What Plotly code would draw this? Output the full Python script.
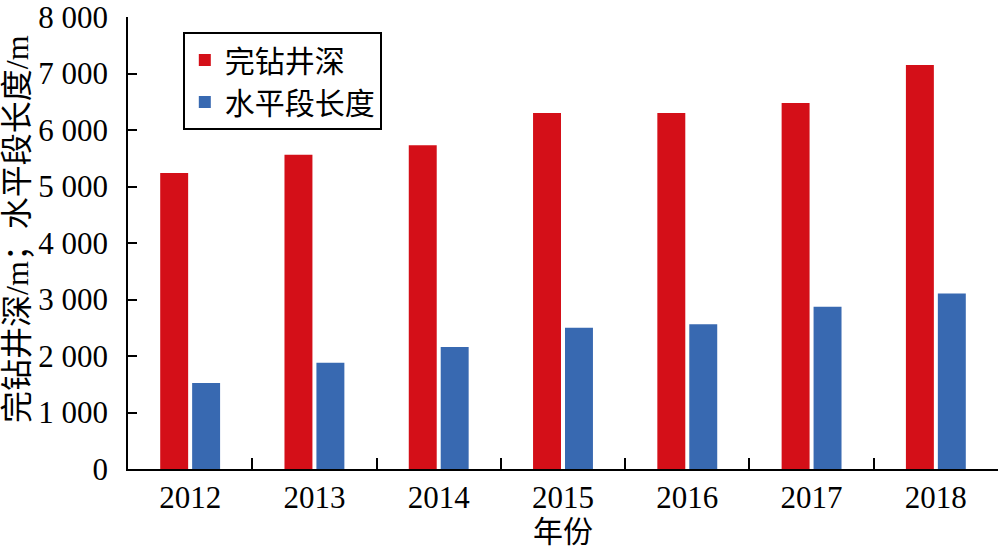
import plotly.graph_objects as go

years = ["2012", "2013", "2014", "2015", "2016", "2017", "2018"]
well_depth = [5240, 5560, 5730, 6300, 6300, 6480, 7150]
horizontal_len = [1520, 1880, 2160, 2500, 2560, 2870, 3105]
y_tickvals = [0, 1000, 2000, 3000, 4000, 5000, 6000, 7000, 8000]
y_ticktext = ["0", "1 000", "2 000", "3 000", "4 000", "5 000", "6 000", "7 000", "8 000"]

SERIF = "Times New Roman, Liberation Serif, serif"
CJK = "Times New Roman, Liberation Serif, Noto Sans CJK SC, serif"

fig = go.Figure()
fig.add_trace(go.Bar(x=years, y=well_depth, name="完钻井深",
                     marker=dict(color="#D40F18", line=dict(width=0))))
fig.add_trace(go.Bar(x=years, y=horizontal_len, name="水平段长度",
                     marker=dict(color="#3869B1", line=dict(width=0))))

fig.update_layout(
    width=1000, height=554,
    margin=dict(l=128, r=2, t=17, b=85, autoexpand=False),
    paper_bgcolor="white", plot_bgcolor="white",
    barmode="group", bargap=0.486, bargroupgap=0.125,
    font=dict(family=CJK, size=30, color="black"),
    showlegend=True,
    legend=dict(x=0.063, y=0.967, xanchor="left", yanchor="top",
                bordercolor="black", borderwidth=2, bgcolor="white",
                font=dict(family=CJK, size=30), tracegroupgap=0,
                itemwidth=30),
    xaxis=dict(type="category", showline=True, linecolor="black", linewidth=1.5,
               ticks="inside", ticklen=11, tickwidth=1.5, tickcolor="black",
               tickson="boundaries", showgrid=False, zeroline=False, automargin=False,
               tickfont=dict(family=SERIF, size=31)),
    yaxis=dict(range=[0, 8000], showline=True, linecolor="black", linewidth=1.5,
               ticks="inside", ticklen=9, tickwidth=1.5, tickcolor="black",
               tickvals=y_tickvals, ticktext=y_ticktext, showgrid=False, zeroline=False,
               automargin=False, ticklabeloverflow="allow",
               tickfont=dict(family=SERIF, size=31), ticklabelstandoff=12),
)
fig.add_annotation(text="完钻井深/m；水平段长度/m", xref="paper", yref="paper",
                   x=-0.127, y=0.53, xanchor="center", yanchor="middle",
                   textangle=-90, showarrow=False,
                   font=dict(family=CJK, size=32, color="black"))
fig.add_annotation(text="年份", xref="paper", yref="paper",
                   x=0.5, y=-0.139, xanchor="center", yanchor="middle",
                   showarrow=False, font=dict(family=CJK, size=30, color="black"))

fig.write_html("out.html", config={"displayModeBar": False},
               post_script="document.body.style.margin='0px';document.body.style.padding='0px';")
